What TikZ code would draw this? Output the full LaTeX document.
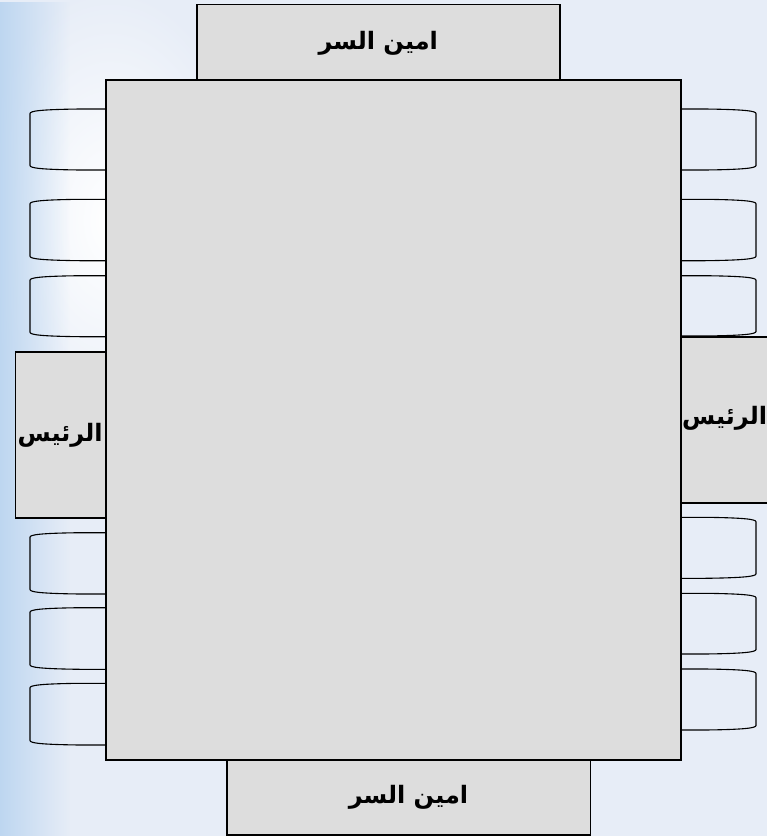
\documentclass[tikz,border=0pt]{standalone}
\usepackage{fontspec}
\usetikzlibrary{fadings}
\newfontfamily\arabicfont[Script=Arabic]{DejaVu Sans}
\TeXXeTstate=1
\definecolor{bgc}{RGB}{231,237,247}
\definecolor{tablegray}{RGB}{221,221,221}
\definecolor{edgeblue}{RGB}{185,212,240}
\tikzfading[name=fadeR, left color=transparent!10, right color=transparent!100]
\begin{document}
\begin{tikzpicture}[x=1pt,y=-1pt,
  box/.style={draw=black, line width=1.5pt, fill=tablegray},
  label/.style={font=\arabicfont\bfseries\fontsize{24}{28}\selectfont, inner sep=0pt},
  chair/.style={draw=black, line width=1.1pt}]
\useasboundingbox (0,0) rectangle (767,836);
% background
\fill[bgc] (0,0) rectangle (767,836);
\shade[inner color=white, outer color=bgc] (110,220) ellipse (140 and 230);
\fill[edgeblue, path fading=fadeR] (0,0) rectangle (70,836);
% chairs left
\foreach \t/\b in {109/170, 199.3/260.7, 275.7/336.7, 532.7/594, 607.7/669.3, 683.3/745}{
  \draw[chair] (105,\t) -- (80,\t) .. controls (40,\t+0.5) and (30,\t+2) .. (30,\t+4.5)
    -- (30,\b-4.5) .. controls (30,\b-2) and (40,\b-0.5) .. (80,\b) -- (105,\b);
}
% chairs right
\foreach \t/\b in {109/170, 199.3/260.7, 275.7/336, 517.3/578.3, 593.3/654, 669/730}{
  \draw[chair] (680,\t) -- (705,\t) .. controls (745,\t+0.5) and (756,\t+2) .. (756,\t+4.5)
    -- (756,\b-4.5) .. controls (756,\b-2) and (745,\b-0.5) .. (705,\b) -- (680,\b);
}
% secretary boxes and chiefs
\node[box, minimum width=363pt, minimum height=75.5pt, anchor=north west] (sectop) at (196,3.7) {};
\node[box, minimum width=363.5pt, minimum height=75pt, anchor=north west] (secbot) at (226,759) {};
\node[box, minimum width=90.3pt, minimum height=166pt, anchor=north west] (chiefl) at (14.7,351.2) {};
\node[box, minimum width=92pt, minimum height=165.6pt, anchor=north west] (chiefr) at (680,336.4) {};
% table
\node[box, minimum width=575pt, minimum height=680pt, anchor=north west] (table) at (105,79) {};
% labels
\node[label] at ([yshift=-1.5pt]sectop.center) {\beginR امين السر\endR};
\node[label] at (secbot.center) {\beginR امين السر\endR};
\node[label] at ([xshift=-0.5pt]chiefl.center) {\beginR الرئيس\endR};
\node[label, anchor=west] at ([xshift=2pt,yshift=2pt]chiefr.west) {\beginR الرئيس\endR};
\end{tikzpicture}
\end{document}
